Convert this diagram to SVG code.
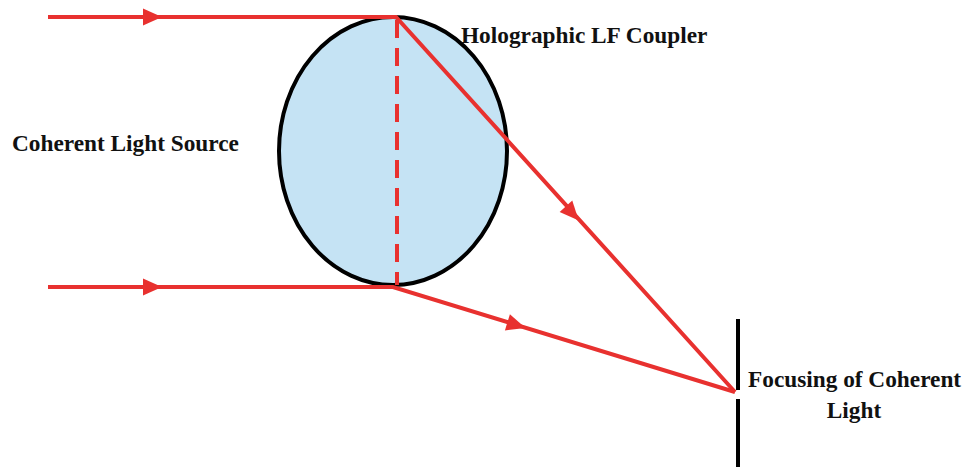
<svg xmlns="http://www.w3.org/2000/svg" width="964" height="467" viewBox="0 0 964 467">
<style>
.ray{stroke:#e8312f;stroke-width:4;fill:none}
.lbl{font-family:"Liberation Serif","Times New Roman",serif;font-weight:bold;font-size:23.3px;fill:#111}
</style>
<defs>
<path id="ah" d="M-9,-8.5 L10,0 L-9,8.5 Z" fill="#e8312f"/>
</defs>
<rect width="964" height="467" fill="#fff"/>
<g id="coupler">
<ellipse cx="393" cy="151" rx="114" ry="134" fill="#c5e3f4" stroke="#000" stroke-width="4"/>
</g>
<g id="screen">
<line x1="738" y1="319" x2="738" y2="390" stroke="#000" stroke-width="4"/>
<line x1="738" y1="399" x2="738" y2="467" stroke="#000" stroke-width="4"/>
</g>
<g id="connectors">
<line class="ray" x1="397" y1="20" x2="397" y2="285" stroke-dasharray="18,10"/>
<polyline class="ray" points="48,17 396,17 735,392"/>
<polyline class="ray" points="48,287 393,287 735,392"/>
<use href="#ah" transform="translate(152,17)"/>
<use href="#ah" transform="translate(152,287)"/>
<use href="#ah" transform="translate(572,213) rotate(47.9)"/>
<use href="#ah" transform="translate(516,325) rotate(17.07)"/>
</g>
<g id="labels">
<text class="lbl" x="461" y="43">Holographic LF Coupler</text>
<text class="lbl" x="12" y="151">Coherent Light Source</text>
<text class="lbl" x="748" y="387">Focusing of Coherent</text>
<text class="lbl" x="854" y="418" text-anchor="middle">Light</text>
</g>
</svg>
